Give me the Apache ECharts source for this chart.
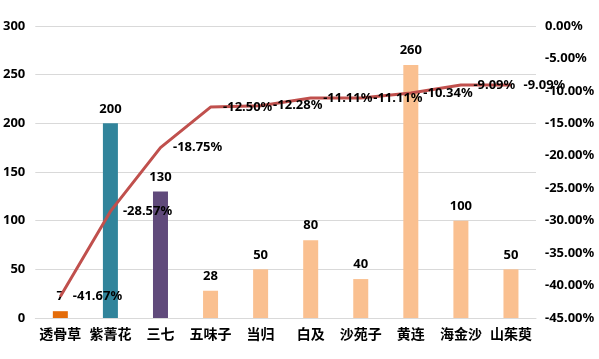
<!DOCTYPE html>
<html><head><meta charset="utf-8">
<script src="https://cdn.jsdelivr.net/npm/echarts@6/dist/echarts.min.js"></script>
<style>html,body{margin:0;padding:0;background:#fff}#c{width:599px;height:359px}</style>
</head><body><div id="c"></div>
<script>
const categories = ['透骨草','紫菁花','三七','五味子','当归','白及','沙苑子','黄连','海金沙','山茱萸'];
const amounts = [7,200,130,28,50,80,40,260,100,50];
const rates = [-41.67,-28.57,-18.75,-12.50,-12.28,-11.11,-11.11,-10.34,-9.09,-9.09];
const barColors = ['#E46C0A','#31849B','#604A7B','#FAC090','#FAC090','#FAC090','#FAC090','#FAC090','#FAC090','#FAC090'];
const numFont = 'Noto Sans';
const chart = echarts.init(document.getElementById('c'));
chart.setOption({
  animation:false,
  grid:{left:35,right:63,top:26,bottom:41,containLabel:false},
  xAxis:{type:'category',data:categories,
    axisLine:{lineStyle:{color:'#D9D9D9'}},axisTick:{show:false},
    axisLabel:{color:'#000',fontWeight:'bold',fontSize:14,fontFamily:'Noto Sans CJK SC',margin:9,interval:0}},
  yAxis:[
    {type:'value',min:0,max:300,interval:50,
      axisLine:{show:false},axisTick:{show:false},
      splitLine:{lineStyle:{color:'#D9D9D9'}},
      axisLabel:{color:'#000',fontWeight:'bold',fontSize:13,fontFamily:numFont,margin:10}},
    {type:'value',min:-45,max:0,interval:5,position:'right',
      axisLine:{show:false},axisTick:{show:false},splitLine:{show:false},
      axisLabel:{color:'#000',fontWeight:'bold',fontSize:13,fontFamily:numFont,margin:9,
        formatter:v=>v.toFixed(2)+'%'}}
  ],
  series:[
    {type:'bar',data:amounts.map((v,i)=>({value:v,itemStyle:{color:barColors[i]}})),barWidth:15,
      label:{show:true,position:'top',distance:8,color:'#000',fontWeight:'bold',fontSize:13,fontFamily:numFont}},
    {type:'line',yAxisIndex:1,data:rates,showSymbol:true,symbol:'circle',symbolSize:1,
      itemStyle:{color:'#C0504D'},
      lineStyle:{color:'#C0504D',width:3},
      labelLayout:{hideOverlap:false},
      label:{show:true,position:'right',distance:12,color:'#000',fontWeight:'bold',fontSize:13,fontFamily:numFont,
        formatter:p=>p.value.toFixed(2)+'%'}}
  ]
});
</script></body></html>
